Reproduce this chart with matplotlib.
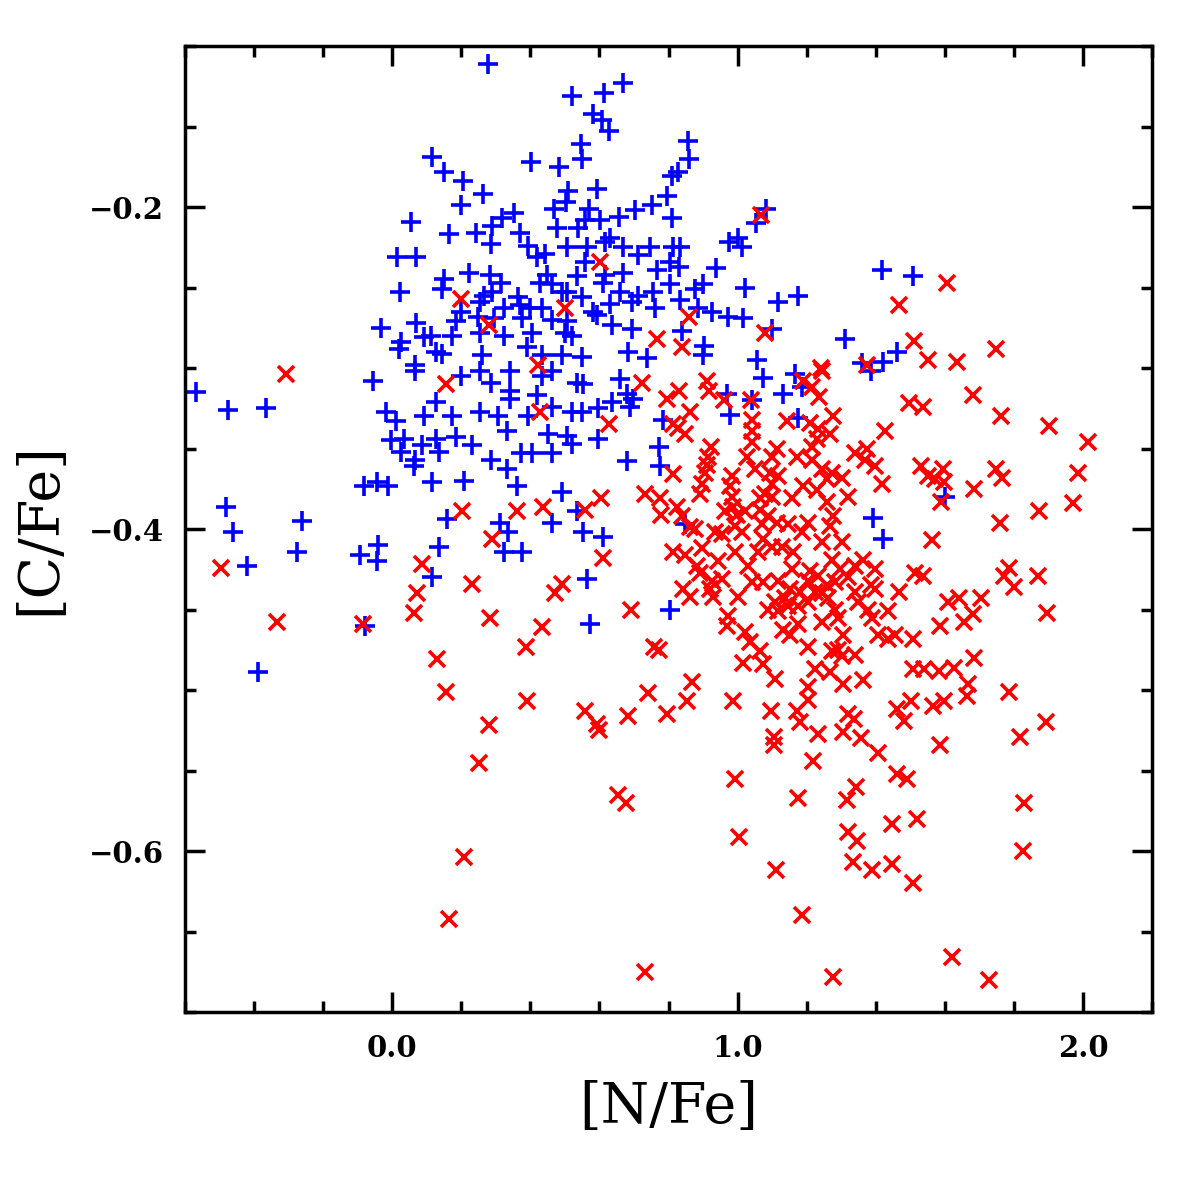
import matplotlib
matplotlib.use("Agg")
import matplotlib.pyplot as plt
from matplotlib.ticker import MultipleLocator, FuncFormatter

# blue (+) sample
blue_nfe = [0.276, 0.668, 0.520, 0.612, 0.581, 0.607, 0.627, 0.546, 0.549, 0.403,
            0.482, 0.116, 0.151, 0.206, 0.264, 0.200, 0.508, 0.592, 0.810, 0.795,
            0.752, 0.702, 0.656, 0.810, 0.569, 0.502, 0.467, 0.354, 0.319, 0.290,
            0.165, 0.244, 0.287, 0.369, 0.392, 0.476, 0.537, 0.557, 0.601, 0.630,
            0.505, 0.563, 0.668, 0.711, 0.746, 0.813, 0.418, 0.441, 0.557, 0.615,
            0.766, 0.804, 0.615, 0.668, 0.534, 0.447, 0.282, 0.221, 0.151, 0.145,
            0.316, 0.427, 0.462, 0.505, 0.549, 0.610, 0.659, 0.711, 0.755, 0.804,
            0.267, 0.290, 0.253, 0.363, 0.369, 0.398, 0.435, 0.491, 0.581, 0.630,
            0.694, 0.761, 0.200, 0.186, 0.247, 0.296, 0.325, 0.377, 0.462, 0.505,
            0.592, 0.636, 0.694, 0.174, 0.253, 0.325, 0.406, 0.499, 0.522, 0.113,
            0.145, 0.261, 0.389, 0.435, 0.491, 0.549, 0.682, 0.737, 0.128,
            0.055, 0.015, 0.070, 0.023, -0.032, 0.070, 0.026, 0.020, 0.093, 0.067,
            0.856, 0.859, 0.827, 1.083, 1.054, 0.833, 0.975, 1.001, 1.013, 0.938,
            0.830, 1.022, 0.877, 0.900, 0.833, 0.885, 0.926, 0.972, 1.016, 1.118,
            1.176, 1.100, 0.839, 0.903, 0.900, 1.057, 1.312, 1.419, 1.507, 1.463,
            1.422, 1.361,
            -0.569, -0.476, -0.366, -0.055, 0.067, -0.017, 0.012, 0.093, -0.003, 0.035,
            0.026, 0.087, 0.064, 0.067, -0.081, -0.044, -0.012, -0.482, -0.462, -0.261,
            -0.276, -0.421, -0.093, -0.041, -0.044, -0.078, -0.389,
            0.128, 0.174, 0.200, 0.253, 0.340, 0.435, 0.464, 0.534, 0.552, 0.659,
            0.679, 0.697, 0.688, 0.253, 0.287, 0.340, 0.340, 0.305, 0.392, 0.418,
            0.464, 0.522, 0.549, 0.595, 0.636, 0.128, 0.186, 0.232, 0.287, 0.331,
            0.331, 0.374, 0.406, 0.450, 0.464, 0.505, 0.522, 0.595, 0.679, 0.784,
            0.772, 0.775, 0.136, 0.116, 0.209, 0.360, 0.493, 0.160, 0.311, 0.334,
            0.464, 0.534, 0.552, 0.610, 0.136, 0.325, 0.377, 0.116, 0.563, 0.804,
            0.572,
            1.074, 1.167, 0.970, 1.042, 1.132, 1.187, 0.978, 1.176, 1.393, 1.422,
            0.848, 1.385, 1.602]
blue_cfe = [-0.111, -0.123, -0.131, -0.129, -0.142, -0.146, -0.153, -0.161, -0.170, -0.172,
            -0.175, -0.169, -0.178, -0.184, -0.192, -0.199, -0.190, -0.189, -0.181, -0.193,
            -0.199, -0.202, -0.206, -0.207, -0.201, -0.197, -0.201, -0.204, -0.207, -0.212,
            -0.217, -0.216, -0.223, -0.216, -0.224, -0.213, -0.213, -0.208, -0.208, -0.219,
            -0.225, -0.225, -0.225, -0.230, -0.225, -0.225, -0.231, -0.229, -0.234, -0.222,
            -0.239, -0.234, -0.242, -0.241, -0.243, -0.242, -0.242, -0.241, -0.245, -0.251,
            -0.247, -0.247, -0.248, -0.253, -0.256, -0.247, -0.253, -0.255, -0.253, -0.248,
            -0.255, -0.253, -0.259, -0.256, -0.261, -0.263, -0.263, -0.253, -0.265, -0.260,
            -0.259, -0.263, -0.265, -0.271, -0.268, -0.269, -0.263, -0.269, -0.270, -0.271,
            -0.267, -0.273, -0.276, -0.280, -0.278, -0.280, -0.278, -0.278, -0.280, -0.280,
            -0.291, -0.292, -0.287, -0.292, -0.292, -0.293, -0.290, -0.294, -0.290,
            -0.209, -0.231, -0.231, -0.253, -0.275, -0.272, -0.284, -0.288, -0.281, -0.298,
            -0.159, -0.170, -0.178, -0.201, -0.210, -0.225, -0.222, -0.219, -0.225, -0.238,
            -0.237, -0.250, -0.251, -0.248, -0.258, -0.263, -0.265, -0.268, -0.269, -0.259,
            -0.255, -0.276, -0.277, -0.286, -0.292, -0.295, -0.282, -0.239, -0.243, -0.290,
            -0.296, -0.297,
            -0.315, -0.326, -0.325, -0.308, -0.302, -0.327, -0.333, -0.330, -0.345, -0.344,
            -0.352, -0.348, -0.361, -0.357, -0.373, -0.371, -0.373, -0.386, -0.402, -0.395,
            -0.414, -0.423, -0.416, -0.410, -0.420, -0.460, -0.489,
            -0.321, -0.330, -0.305, -0.302, -0.302, -0.305, -0.302, -0.309, -0.310, -0.307,
            -0.316, -0.319, -0.324, -0.327, -0.309, -0.314, -0.319, -0.330, -0.330, -0.317,
            -0.324, -0.327, -0.327, -0.325, -0.321, -0.344, -0.343, -0.348, -0.357, -0.339,
            -0.363, -0.353, -0.353, -0.341, -0.353, -0.342, -0.347, -0.344, -0.358, -0.332,
            -0.349, -0.361, -0.352, -0.371, -0.370, -0.373, -0.377, -0.394, -0.396, -0.402,
            -0.396, -0.389, -0.402, -0.405, -0.411, -0.414, -0.414, -0.430, -0.431, -0.450,
            -0.459,
            -0.306, -0.304, -0.316, -0.320, -0.316, -0.312, -0.329, -0.331, -0.393, -0.406,
            -0.397, -0.302, -0.380]

# red (x) sample
red_nfe = [0.601, 0.200, 0.279, 0.499, 0.766, 0.421, 1.068, 1.466, 0.859, 1.080,
           0.839, 1.512, 1.242, 1.376, 1.605, 1.747, 1.550, 1.634, -0.308, -0.496,
           0.087, 0.073, 0.064, -0.334, -0.084, 0.157, 0.427, 0.627, 0.723, 0.795,
           0.813, 0.813, 0.731, 0.775, 0.778, 0.203, 0.360, 0.438, 0.557, 0.604,
           0.290, 0.610, 0.232, 0.493, 0.470, 0.691, 0.284, 0.433, 0.386, 0.758,
           0.772, 0.131, 0.813, 0.157, 0.740, 0.389, 0.279, 0.557, 0.592, 0.598,
           0.682, 0.795, 0.250, 0.653, 0.676, 0.209, 0.163, 0.731,
           0.853, 0.987, 1.097, 1.173, 1.181, 1.205, 1.234, 1.106, 1.106, 1.321,
           1.338, 1.306, 1.358, 1.408, 1.219, 1.463, 1.501, 1.483, 0.993, 1.463,
           1.492, 1.344, 1.318, 1.176, 1.446, 1.521, 1.004, 1.321, 1.347, 1.335,
           1.388, 1.446, 1.509, 1.112, 1.187, 1.277,
           1.567, 1.597, 1.663, 1.785, 1.893, 1.817, 1.585, 1.829, 1.826, 1.620,
           1.727,
           1.681, 1.762, 1.901, 2.015, 1.536, 1.594, 1.550, 1.573, 1.599, 1.530,
           1.747, 1.765, 1.684, 1.986, 1.588, 1.971, 1.872, 1.759, 1.562, 1.785,
           1.771, 1.800, 1.869, 1.538, 1.608, 1.640, 1.704, 1.681, 1.655, 1.585,
           1.895, 1.684, 1.628, 1.582, 1.541, 1.666,
           0.830, 0.911, 0.917, 0.961, 1.039, 0.862, 0.827, 0.848, 1.190, 1.216,
           1.237, 1.245, 1.495, 1.144, 1.042, 1.042, 1.042, 1.210, 1.234, 1.277,
           1.269, 1.231, 1.216, 1.428, 0.923, 0.914, 0.911, 0.906, 0.897, 0.891,
           1.028, 1.100, 1.115, 1.173, 1.216, 1.245, 1.260, 1.274, 1.303, 1.341,
           1.376, 1.370, 1.399, 1.419, 1.051, 1.094, 1.118, 1.100, 0.984, 0.978,
           0.984, 0.987, 0.964, 0.999, 1.022, 1.065, 1.080, 1.100, 1.065, 1.089,
           1.158, 1.190, 1.231, 1.260, 1.321, 1.277, 1.269, 1.245, 1.303, 1.205,
           1.187, 1.147, 1.115, 1.071, 1.074, 1.059, 1.100, 1.129, 1.161, 1.158,
           1.118, 1.074, 1.042, 1.030, 0.993, 0.955, 0.935, 1.013, 0.993, 0.897,
           0.848, 0.839, 0.862, 0.877, 0.882, 0.891, 0.943, 0.955, 0.926, 0.920,
           0.842, 0.862, 0.929, 1.001, 1.210, 1.234, 1.274, 1.298, 1.341, 1.364,
           1.399, 1.321, 1.283, 1.260, 1.245, 1.263, 1.225, 1.205, 1.181, 1.152,
           1.138, 1.109, 1.089, 1.118, 1.147, 1.176, 1.205, 1.283, 1.292, 1.341,
           1.385, 1.399, 1.466, 1.515, 1.379, 1.390, 1.437, 1.350, 0.972, 0.970,
           1.022, 1.036, 1.065, 1.132, 1.152, 1.176, 1.245, 1.205, 1.306, 1.292,
           1.274, 1.303, 1.341, 1.408, 1.437, 1.457, 1.507, 1.016, 1.074, 1.109,
           1.225, 1.269, 1.306, 1.364, 1.507, 0.868, 1.205, 0.824]
red_cfe = [-0.234, -0.257, -0.273, -0.263, -0.282, -0.298, -0.205, -0.261, -0.268, -0.278,
           -0.287, -0.283, -0.300, -0.298, -0.247, -0.288, -0.295, -0.296, -0.304, -0.424,
           -0.422, -0.440, -0.452, -0.458, -0.459, -0.310, -0.327, -0.335, -0.309, -0.319,
           -0.335, -0.366, -0.378, -0.381, -0.391, -0.389, -0.389, -0.386, -0.388, -0.381,
           -0.406, -0.418, -0.434, -0.434, -0.440, -0.450, -0.455, -0.461, -0.473, -0.473,
           -0.475, -0.481, -0.414, -0.501, -0.502, -0.507, -0.522, -0.513, -0.521, -0.525,
           -0.516, -0.515, -0.545, -0.565, -0.570, -0.604, -0.642, -0.675,
           -0.507, -0.507, -0.513, -0.513, -0.520, -0.506, -0.527, -0.529, -0.534, -0.515,
           -0.518, -0.526, -0.530, -0.539, -0.544, -0.512, -0.507, -0.519, -0.555, -0.552,
           -0.555, -0.560, -0.568, -0.567, -0.583, -0.580, -0.591, -0.588, -0.594, -0.607,
           -0.612, -0.608, -0.620, -0.612, -0.640, -0.678,
           -0.510, -0.507, -0.504, -0.501, -0.520, -0.529, -0.534, -0.570, -0.600, -0.666,
           -0.680,
           -0.317, -0.330, -0.336, -0.346, -0.324, -0.363, -0.367, -0.369, -0.371, -0.361,
           -0.363, -0.368, -0.375, -0.365, -0.383, -0.384, -0.389, -0.396, -0.407, -0.424,
           -0.429, -0.436, -0.429, -0.429, -0.445, -0.443, -0.443, -0.453, -0.458, -0.460,
           -0.452, -0.480, -0.486, -0.488, -0.487, -0.496,
           -0.314, -0.308, -0.314, -0.320, -0.320, -0.327, -0.337, -0.341, -0.308, -0.312,
           -0.318, -0.302, -0.322, -0.333, -0.332, -0.339, -0.346, -0.334, -0.338, -0.330,
           -0.341, -0.344, -0.349, -0.339, -0.349, -0.355, -0.360, -0.365, -0.372, -0.378,
           -0.355, -0.355, -0.350, -0.355, -0.357, -0.363, -0.369, -0.365, -0.368, -0.353,
           -0.350, -0.357, -0.361, -0.372, -0.363, -0.365, -0.367, -0.372, -0.367, -0.373,
           -0.380, -0.386, -0.389, -0.391, -0.389, -0.381, -0.378, -0.380, -0.388, -0.392,
           -0.381, -0.373, -0.376, -0.383, -0.380, -0.392, -0.398, -0.408, -0.408, -0.396,
           -0.402, -0.397, -0.396, -0.397, -0.406, -0.414, -0.411, -0.411, -0.414, -0.425,
           -0.432, -0.433, -0.433, -0.423, -0.414, -0.403, -0.402, -0.402, -0.398, -0.412,
           -0.416, -0.392, -0.399, -0.400, -0.423, -0.427, -0.420, -0.431, -0.432, -0.437,
           -0.437, -0.442, -0.442, -0.442, -0.426, -0.429, -0.419, -0.425, -0.423, -0.419,
           -0.425, -0.430, -0.433, -0.435, -0.440, -0.443, -0.439, -0.432, -0.439, -0.437,
           -0.443, -0.445, -0.450, -0.451, -0.448, -0.448, -0.445, -0.450, -0.455, -0.439,
           -0.435, -0.437, -0.439, -0.427, -0.450, -0.455, -0.451, -0.445, -0.454, -0.460,
           -0.464, -0.470, -0.476, -0.463, -0.466, -0.459, -0.458, -0.473, -0.466, -0.475,
           -0.476, -0.479, -0.478, -0.466, -0.468, -0.466, -0.468, -0.483, -0.484, -0.493,
           -0.487, -0.489, -0.496, -0.494, -0.487, -0.495, -0.498, -0.386]

plt.rcParams['font.family'] = ['DejaVu Serif']


def fmt(v, pos):
    return f"{v:.1f}".replace("-", "\u2212")


fig = plt.figure(figsize=(11.96, 11.96), dpi=100)
ax = fig.add_axes([0.1547, 0.1538, 0.8085, 0.8077])

ax.plot(blue_nfe, blue_cfe, linestyle="none", marker="+", color="blue",
        markersize=15, markeredgewidth=2.6)
ax.plot(red_nfe, red_cfe, linestyle="none", marker="x", color="red",
        markersize=12, markeredgewidth=2.6)

ax.set_xlim(-0.6, 2.2)
ax.set_ylim(-0.7, -0.1)

ax.xaxis.set_major_locator(MultipleLocator(1.0))
ax.xaxis.set_minor_locator(MultipleLocator(0.2))
ax.yaxis.set_major_locator(MultipleLocator(0.2))
ax.yaxis.set_minor_locator(MultipleLocator(0.05))
ax.xaxis.set_major_formatter(FuncFormatter(fmt))
ax.yaxis.set_major_formatter(FuncFormatter(fmt))

ax.tick_params(which="both", direction="in", top=True, right=True, width=2.5)
ax.tick_params(which="major", length=14.5, labelsize=21)
ax.tick_params(which="minor", length=8)
ax.tick_params(axis="x", which="major", pad=16)
ax.tick_params(axis="y", which="major", pad=15)
for lab in ax.get_xticklabels() + ax.get_yticklabels():
    lab.set_fontweight("bold")

for sp in ax.spines.values():
    sp.set_linewidth(2.5)

ax.set_xlabel("[N/Fe]", fontsize=40, labelpad=12)
ax.set_ylabel("[C/Fe]", fontsize=40, labelpad=16)

fig.savefig("out.png", dpi=100)
